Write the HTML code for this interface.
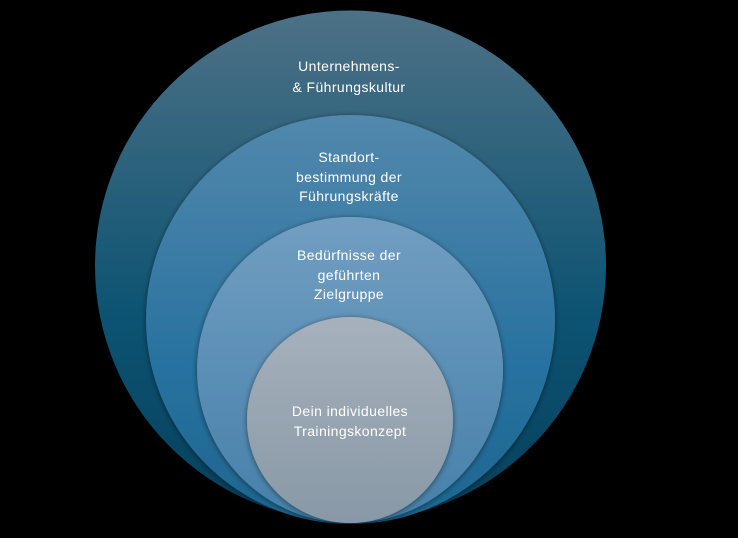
<!DOCTYPE html>
<html><head><meta charset="utf-8"><style>
html,body{margin:0;padding:0;background:#000;}
svg{display:block}
text{font-family:"Liberation Sans",sans-serif;font-size:14px;letter-spacing:0.4px;fill:#fff;text-anchor:middle;}
</style></head><body>
<svg width="738" height="538" viewBox="0 0 738 538">
<defs>
<linearGradient id="g1" x1="0" y1="0" x2="0" y2="1"><stop offset="0" stop-color="#4d7186"/><stop offset="0.6" stop-color="#0c5372"/><stop offset="1" stop-color="#06405c"/></linearGradient>
<linearGradient id="g2" x1="0" y1="0" x2="0" y2="1"><stop offset="0" stop-color="#5388ac"/><stop offset="0.6" stop-color="#2872a0"/><stop offset="1" stop-color="#1d6690"/></linearGradient>
<linearGradient id="g3" x1="0" y1="0" x2="0" y2="1"><stop offset="0" stop-color="#719ec1"/><stop offset="1" stop-color="#4680aa"/></linearGradient>
<linearGradient id="g4" x1="0" y1="0" x2="0" y2="1"><stop offset="0" stop-color="#a6b1bc"/><stop offset="1" stop-color="#8898a6"/></linearGradient>
<filter id="sh" x="-10%" y="-10%" width="120%" height="120%"><feGaussianBlur in="SourceAlpha" stdDeviation="3"/><feOffset dy="1"/><feComponentTransfer><feFuncA type="linear" slope="0.5"/></feComponentTransfer><feMerge><feMergeNode/><feMergeNode in="SourceGraphic"/></feMerge></filter>
</defs>
<circle cx="350.5" cy="266" r="255.5" fill="url(#g1)"/>
<circle cx="350.5" cy="319.5" r="204.5" fill="url(#g2)" filter="url(#sh)"/>
<circle cx="350" cy="370" r="153" fill="url(#g3)" filter="url(#sh)"/>
<circle cx="350" cy="420" r="103" fill="url(#g4)" filter="url(#sh)"/>
<text x="349" y="71">Unternehmens-</text>
<text x="349" y="92">&amp; Führungskultur</text>
<text x="349" y="162">Standort-</text>
<text x="349" y="182">bestimmung der</text>
<text x="349" y="201">Führungskräfte</text>
<text x="349" y="260">Bedürfnisse der</text>
<text x="349" y="280">geführten</text>
<text x="349" y="299">Zielgruppe</text>
<text x="350" y="416">Dein individuelles</text>
<text x="350" y="436">Trainingskonzept</text>
</svg>
</body></html>
